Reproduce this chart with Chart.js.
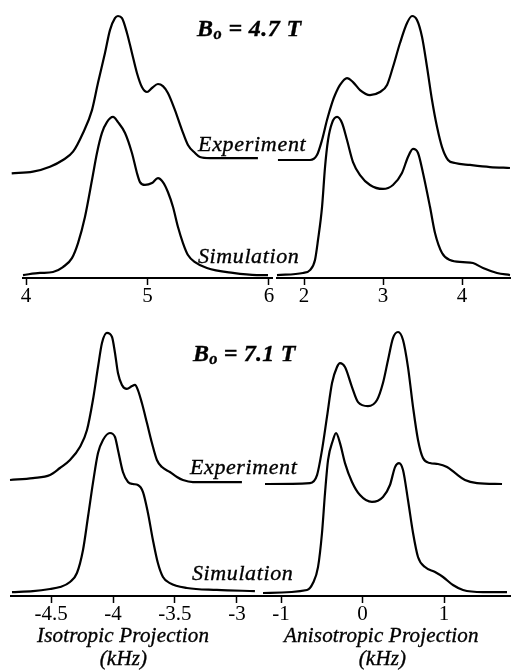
<!DOCTYPE html>
<html><head><meta charset="utf-8">
<script src="https://cdn.jsdelivr.net/npm/chart.js@4.4.1/dist/chart.umd.min.js"></script>
<style>
html,body{margin:0;padding:0;background:#fff;width:511px;height:671px;overflow:hidden;position:relative;}
canvas{position:absolute;}
.t{position:absolute;font-family:"Liberation Serif","Times New Roman",serif;line-height:1;white-space:nowrap;color:#000;-webkit-text-stroke:0.35px #000;}
</style></head><body>
<script>
// ---------- DATA (frequency in kHz, relative intensity) ----------
// Top row, B0 = 4.7 T
const isoTopTicks = [4, 5, 6];
const isoTopExpX = [3.882,4.057,4.197,4.304,4.387,4.469,4.543,4.592,4.650,4.691,4.732,4.757,4.790,4.831,4.872,4.913,4.954,4.996,5.037,5.086,5.127,5.168,5.226,5.284,5.333,5.391,5.432,5.514,5.679,5.909];
const isoTopExpI = [0.017,0.027,0.058,0.100,0.152,0.269,0.412,0.581,0.769,0.912,0.987,1.000,0.987,0.894,0.769,0.644,0.556,0.525,0.550,0.575,0.562,0.519,0.412,0.287,0.194,0.144,0.119,0.112,0.112,0.112];
const isoTopSimX = [3.975,4.115,4.222,4.304,4.378,4.428,4.485,4.543,4.584,4.625,4.666,4.716,4.757,4.815,4.872,4.913,4.938,4.979,5.037,5.086,5.127,5.168,5.210,5.251,5.292,5.333,5.391,5.489,5.703,5.901,5.992];
const isoTopSimI = [0.006,0.019,0.025,0.056,0.112,0.206,0.369,0.600,0.769,0.894,0.962,0.994,0.962,0.894,0.769,0.644,0.587,0.569,0.581,0.612,0.587,0.525,0.431,0.306,0.206,0.131,0.087,0.050,0.019,0.006,0.006];
const anisoTopTicks = [2, 3, 4];
const anisoTopExpX = [1.670,2.076,2.164,2.228,2.291,2.354,2.392,2.456,2.544,2.620,2.709,2.835,2.962,3.051,3.126,3.215,3.304,3.367,3.430,3.494,3.557,3.620,3.684,3.747,3.823,3.911,4.101,4.354,4.607];
const anisoTopExpI = [0.100,0.100,0.131,0.225,0.350,0.456,0.506,0.569,0.612,0.587,0.537,0.506,0.525,0.569,0.681,0.831,0.956,1.000,0.975,0.869,0.681,0.475,0.306,0.181,0.100,0.081,0.069,0.056,0.050];
const anisoTopSimX = [1.658,1.987,2.076,2.139,2.177,2.228,2.266,2.304,2.354,2.418,2.481,2.544,2.620,2.709,2.835,3.000,3.126,3.240,3.316,3.380,3.443,3.506,3.595,3.658,3.747,3.848,4.013,4.139,4.266,4.443,4.607];
const anisoTopSimI = [0.006,0.019,0.037,0.100,0.225,0.431,0.681,0.850,0.956,0.994,0.956,0.850,0.712,0.631,0.569,0.544,0.569,0.644,0.744,0.794,0.769,0.644,0.431,0.269,0.144,0.100,0.087,0.081,0.050,0.019,0.006];
// Bottom row, B0 = 7.1 T
const isoBotTicks = [-4.5, -4, -3.5, -3];
const isoBotExpX = [-4.831,-4.646,-4.508,-4.428,-4.347,-4.267,-4.210,-4.162,-4.121,-4.089,-4.049,-4.008,-3.984,-3.960,-3.928,-3.888,-3.847,-3.823,-3.799,-3.767,-3.726,-3.686,-3.646,-3.605,-3.541,-3.484,-3.436,-3.355,-3.242,-2.960];
const isoBotExpI = [0.025,0.037,0.056,0.100,0.150,0.231,0.337,0.525,0.731,0.881,0.944,0.919,0.819,0.694,0.619,0.594,0.612,0.619,0.587,0.506,0.381,0.256,0.150,0.106,0.075,0.044,0.025,0.012,0.012,0.012];
const isoBotSimX = [-4.815,-4.646,-4.508,-4.428,-4.347,-4.291,-4.242,-4.202,-4.162,-4.121,-4.081,-4.025,-3.984,-3.960,-3.920,-3.879,-3.839,-3.799,-3.758,-3.718,-3.678,-3.638,-3.597,-3.541,-3.404,-3.162,-2.855];
const isoBotSimI = [0.006,0.012,0.025,0.037,0.069,0.125,0.269,0.475,0.687,0.875,0.956,1.000,0.975,0.894,0.756,0.694,0.681,0.675,0.631,0.500,0.331,0.187,0.100,0.062,0.031,0.019,0.012];
const anisoBotTicks = [-1, 0, 1];
const anisoBotExpX = [-1.196,-0.644,-0.558,-0.497,-0.436,-0.374,-0.313,-0.276,-0.215,-0.129,-0.055,0.067,0.178,0.251,0.313,0.374,0.436,0.497,0.558,0.620,0.681,0.742,0.828,0.926,1.037,1.135,1.257,1.405,1.712];
const anisoBotExpI = [0.000,0.006,0.056,0.212,0.419,0.631,0.731,0.756,0.731,0.606,0.512,0.487,0.525,0.631,0.775,0.912,0.950,0.900,0.731,0.481,0.275,0.162,0.131,0.125,0.106,0.069,0.025,0.006,0.000];
const anisoBotSimX = [-1.221,-0.681,-0.608,-0.546,-0.497,-0.460,-0.423,-0.362,-0.325,-0.276,-0.215,-0.129,-0.031,0.116,0.251,0.337,0.399,0.448,0.497,0.558,0.620,0.681,0.767,0.890,0.988,1.110,1.233,1.478,1.773];
const anisoBotSimI = [0.000,0.019,0.062,0.162,0.375,0.625,0.831,0.956,1.000,0.937,0.812,0.694,0.612,0.569,0.600,0.675,0.787,0.812,0.769,0.581,0.375,0.225,0.162,0.131,0.100,0.050,0.019,0.006,0.006];

// ---------- LAYOUT ----------
const FONT = '"Liberation Serif","Times New Roman",serif';
const TICK_SIZE = 21, TICK_LEN = 7, TICK_PAD = 1;
const AXIS_H = TICK_LEN + TICK_SIZE + 2 * TICK_PAD;
const PX_PER_UNIT = 160;
const panels = [
  {left:0,   top:0,   width:276, height:310, aL:23,  aR:272, aT:6,   aB:278, xMin:3.975,  xMax:6.025, ticks:isoTopTicks,   ex:isoTopExpX,   ei:isoTopExpI,   sx:isoTopSimX,   si:isoTopSimI,   simZero:276, expZero:176},
  {left:276, top:0,   width:235, height:310, aL:277, aR:511, aT:6,   aB:278, xMin:1.658,  xMax:4.62,  ticks:anisoTopTicks, ex:anisoTopExpX, ei:anisoTopExpI, sx:anisoTopSimX, si:anisoTopSimI, simZero:276, expZero:176},
  {left:0,   top:310, width:262, height:320, aL:11,  aR:261, aT:316, aB:596, xMin:-4.823, xMax:-2.806,ticks:isoBotTicks,   ex:isoBotExpX,   ei:isoBotExpI,   sx:isoBotSimX,   si:isoBotSimI,   simZero:593, expZero:484},
  {left:262, top:310, width:249, height:320, aL:263, aR:511, aT:316, aB:596, xMin:-1.221, xMax:1.822, ticks:anisoBotTicks, ex:anisoBotExpX, ei:anisoBotExpI, sx:anisoBotSimX, si:anisoBotSimI, simZero:593, expZero:484}
];

function pts(xs, ys){ return xs.map((x,i)=>({x:x, y:ys[i]})); }

panels.forEach(p => {
  const c = document.createElement('canvas');
  c.width = p.width; c.height = p.height;
  c.style.left = p.left + 'px'; c.style.top = p.top + 'px';
  c.style.width = p.width + 'px'; c.style.height = p.height + 'px';
  document.body.appendChild(c);
  const ds = {borderColor:'#000', borderWidth:2.2, pointRadius:0, fill:false, clip:false, cubicInterpolationMode:'monotone'};
  new Chart(c.getContext('2d'), {
    type:'line',
    data:{datasets:[
      Object.assign({label:'Experiment', data:pts(p.ex,p.ei), yAxisID:'yExp'}, ds),
      Object.assign({label:'Simulation', data:pts(p.sx,p.si), yAxisID:'ySim'}, ds)
    ]},
    options:{
      responsive:false, animation:false, devicePixelRatio:1,
      layout:{padding:{left:p.aL-p.left, right:p.left+p.width-p.aR, top:p.aT-p.top, bottom:p.top+p.height-p.aB-AXIS_H}},
      plugins:{legend:{display:false}, tooltip:{enabled:false}},
      scales:{
        x:{type:'linear', position:'bottom', min:p.xMin, max:p.xMax,
           afterBuildTicks: s => { s.ticks = p.ticks.map(v=>({value:v})); },
           grid:{drawOnChartArea:false, drawTicks:true, tickLength:TICK_LEN, tickWidth:1.5, tickColor:'#000', color:'#000'},
           border:{display:true, color:'#000', width:2},
           ticks:{color:'#000', padding:TICK_PAD, maxRotation:0, autoSkip:false, font:{family:FONT, size:TICK_SIZE, lineHeight:1}, callback:v=>String(v)}},
        ySim:{type:'linear', display:false, min:-(p.aB-p.simZero)/PX_PER_UNIT, max:(p.simZero-p.aT)/PX_PER_UNIT},
        yExp:{type:'linear', display:false, min:-(p.aB-p.expZero)/PX_PER_UNIT, max:(p.expZero-p.aT)/PX_PER_UNIT}
      }
    }
  });
});

// ---------- TEXT LABELS ----------
const labels = [
  {html:'B<span style="font-size:0.68em;position:relative;top:0.22em">o</span> = 4.7 T', left:197, base:36, size:24, w:'bold', st:'italic', ls:0.4},
  {html:'Experiment', left:198, base:151, size:22, w:'normal', st:'italic', ls:0.7},
  {html:'Simulation', left:198, base:263, size:22, w:'normal', st:'italic', ls:0.6},
  {html:'B<span style="font-size:0.68em;position:relative;top:0.22em">o</span> = 7.1 T', left:193, base:361, size:24, w:'bold', st:'italic', ls:0.2},
  {html:'Experiment', left:190, base:474, size:22, w:'normal', st:'italic', ls:0.6},
  {html:'Simulation', left:192, base:580, size:22, w:'normal', st:'italic', ls:0.6},
  {html:'Isotropic Projection', left:37, base:643, size:21, w:'normal', st:'italic', ls:0.2},
  {html:'(kHz)', center:123.5, base:666, size:21, w:'normal', st:'italic', ls:0.2},
  {html:'Anisotropic Projection', left:284, base:643, size:21, w:'normal', st:'italic', ls:0.2},
  {html:'(kHz)', center:382.5, base:666, size:21, w:'normal', st:'italic', ls:0.2}
];
labels.forEach(l => {
  const d = document.createElement('div');
  d.className = 't';
  d.innerHTML = l.html;
  d.style.fontSize = l.size + 'px';
  d.style.fontWeight = l.w; d.style.fontStyle = l.st;
  d.style.letterSpacing = l.ls + 'px';
  d.style.top = (l.base - 0.8375 * l.size) + 'px';
  if (l.center !== undefined) { d.style.left = l.center + 'px'; d.style.transform = 'translateX(-50%)'; }
  else d.style.left = l.left + 'px';
  document.body.appendChild(d);
});
</script>
</body></html>
